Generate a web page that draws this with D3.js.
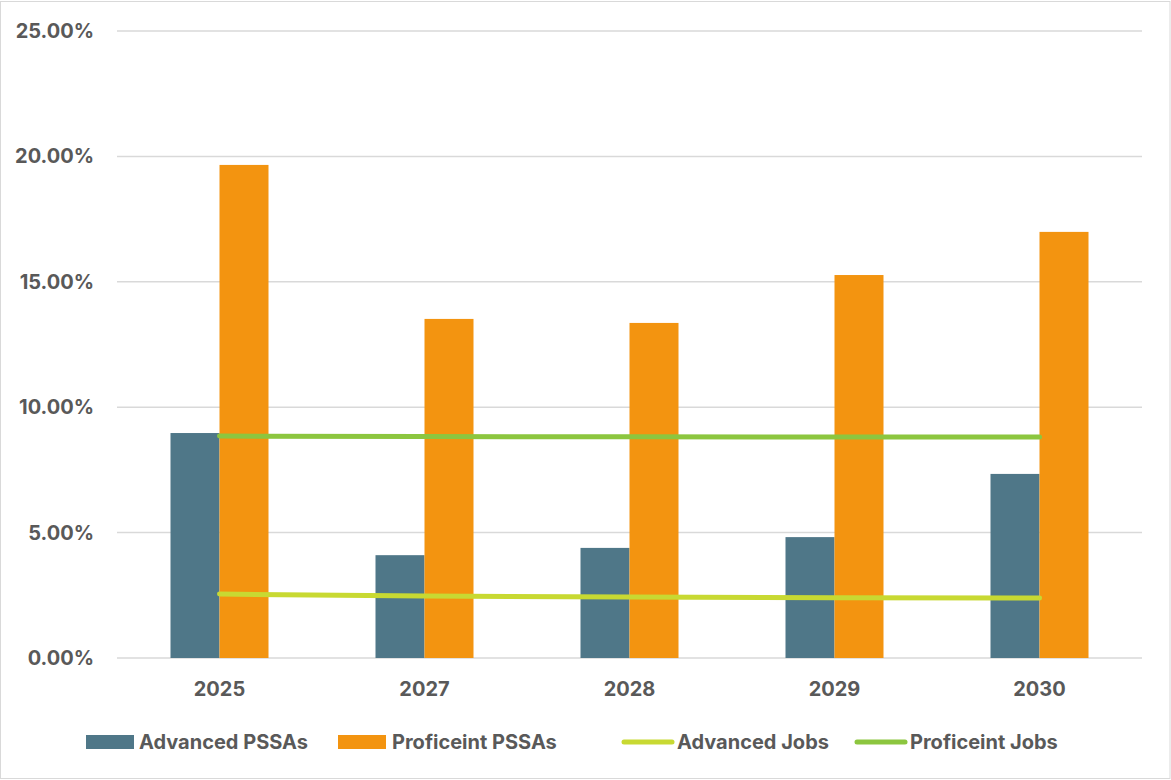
<!DOCTYPE html>
<html>
<head>
<meta charset="utf-8">
<script src="https://cdn.jsdelivr.net/npm/d3@7"></script>
<style>
  body { margin: 0; background: #fff; }
  text { font-family: Inter, "Liberation Sans", Arial, sans-serif; font-weight: bold; fill: #595959; }
</style>
</head>
<body>
<svg id="chart" width="1171" height="780"></svg>
<script>
var years = ['2025', '2027', '2028', '2029', '2030'];
var advancedPSSAs = [0.0897, 0.0410, 0.0439, 0.0482, 0.0734];
var proficientPSSAs = [0.1966, 0.1352, 0.1336, 0.1527, 0.1699];
var advancedJobs = [0.0255, 0.0247, 0.0243, 0.0240, 0.0239];
var proficientJobs = [0.0885, 0.0883, 0.0882, 0.0881, 0.0881];
var yTicks = [0, 0.05, 0.10, 0.15, 0.20, 0.25];

var colors = { adv: '#4f7788', prof: '#f39410', advJob: '#c8d932', profJob: '#8cc63f' };

var svg = d3.select('#chart');
var W = 1171, H = 780;
var plotLeft = 117, plotRight = 1142, plotTop = 31, plotBottom = 658;

// chart border
svg.append('rect').attr('x', 0.5).attr('y', 1.5).attr('width', W - 1.5).attr('height', H - 3)
  .attr('fill', 'none').attr('stroke', '#d9d9d9').attr('stroke-width', 1);

var x = d3.scaleBand().domain(years).range([plotLeft, plotRight]).paddingInner(107 / 205).paddingOuter(107 / 410);
var xSub = d3.scaleBand().domain(['adv', 'prof']).range([0, x.bandwidth()]);
var y = d3.scaleLinear().domain([0, 0.25]).range([plotBottom, plotTop]);

// gridlines
svg.append('g').selectAll('line').data(yTicks).join('line')
  .attr('x1', plotLeft).attr('x2', plotRight)
  .attr('y1', function(d){ return y(d); }).attr('y2', function(d){ return y(d); })
  .attr('stroke', '#d9d9d9').attr('stroke-width', 1.5);

// y labels
svg.append('g').selectAll('text').data(yTicks).join('text')
  .attr('x', 94).attr('y', function(d){ return y(d); }).attr('dy', '0.35em')
  .attr('text-anchor', 'end').attr('font-size', '20px')
  .text(function(d){ return d3.format('.2%')(d); });

// x labels
svg.append('g').selectAll('text').data(years).join('text')
  .attr('x', function(d){ return x(d) + x.bandwidth() / 2; }).attr('y', 696)
  .attr('text-anchor', 'middle').attr('font-size', '20px')
  .text(function(d){ return d; });

// bars
var barSeries = [{ key: 'adv', values: advancedPSSAs }, { key: 'prof', values: proficientPSSAs }];
barSeries.forEach(function(s){
  svg.append('g').selectAll('rect').data(s.values).join('rect')
    .attr('x', function(d, i){ return x(years[i]) + xSub(s.key); })
    .attr('width', xSub.bandwidth())
    .attr('y', function(d){ return y(d); })
    .attr('height', function(d){ return y(0) - y(d); })
    .attr('fill', colors[s.key]);
});

// lines
var line = d3.line()
  .x(function(d, i){ return x(years[i]) + x.bandwidth() / 2; })
  .y(function(d){ return y(d); });
[{ key: 'advJob', values: advancedJobs }, { key: 'profJob', values: proficientJobs }].forEach(function(s){
  svg.append('path').datum(s.values).attr('d', line)
    .attr('fill', 'none').attr('stroke', colors[s.key]).attr('stroke-width', 5)
    .attr('stroke-linecap', 'round').attr('stroke-linejoin', 'round');
});

// legend
var legend = svg.append('g');
var items = [
  { label: 'Advanced PSSAs', key: 'adv', type: 'rect', x: 86, tx: 139 },
  { label: 'Proficeint PSSAs', key: 'prof', type: 'rect', x: 338, tx: 392 },
  { label: 'Advanced Jobs', key: 'advJob', type: 'line', x: 624, tx: 677 },
  { label: 'Proficeint Jobs', key: 'profJob', type: 'line', x: 857, tx: 910 }
];
items.forEach(function(it){
  if (it.type == 'rect') {
    legend.append('rect').attr('x', it.x).attr('y', 735).attr('width', 48).attr('height', 14).attr('fill', colors[it.key]);
  } else {
    legend.append('line').attr('x1', it.x).attr('x2', it.x + 48).attr('y1', 742).attr('y2', 742)
      .attr('stroke', colors[it.key]).attr('stroke-width', 5).attr('stroke-linecap', 'round');
  }
  legend.append('text').attr('x', it.tx).attr('y', 749).attr('font-size', '20px').text(it.label);
});
</script>
</body>
</html>
